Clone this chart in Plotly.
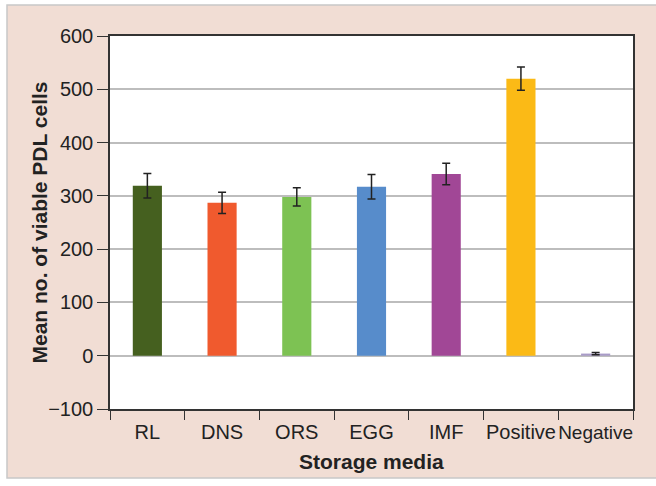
import plotly.graph_objects as go

categories = ["RL", "DNS", "ORS", "EGG", "IMF", "Positive", "Negative"]
tick_labels = ["RL", "DNS", "ORS", "EGG", "IMF", "Positive",
               '<span style="font-size:19px">Negative</span>']
means = [319, 287, 298, 317, 341, 520, 4]
errors = [23, 20, 17, 23, 20, 22, 2]
colors = ["#45601F", "#F05A2E", "#7DC253", "#578CCB", "#A14796", "#FBBA16", "#A99CC8"]
y_ticks = [-100, 0, 100, 200, 300, 400, 500, 600]
y_tick_labels = ["\u2212100", "0", "100", "200", "300", "400", "500", "600"]
x_title = "Storage media"
y_title = "Mean no. of viable PDL cells"

W, H = 656, 486
L, R, T, B = 110, 23, 36, 77
pw, ph = W - L - R, H - T - B

def px_x(p):
    return (p - L) / pw

def px_y(p):
    return (H - B - p) / ph

fig = go.Figure()
fig.add_trace(go.Bar(
    x=categories, y=means,
    marker=dict(color=colors, line=dict(width=0)),
    width=0.39,
    error_y=dict(type="data", array=errors, visible=True,
                 color="#222222", thickness=1.5, width=4),
    showlegend=False,
))

fig.update_layout(
    width=W, height=H,
    margin=dict(l=L, r=R, t=T, b=B, autoexpand=False),
    paper_bgcolor="#FFFFFF",
    plot_bgcolor="#FFFFFF",
    font=dict(family="Liberation Sans, Arial, sans-serif", size=20, color="#222222"),
    shapes=[
        dict(type="rect", xref="paper", yref="paper",
             x0=px_x(7), x1=px_x(664), y0=px_y(478), y1=px_y(5),
             fillcolor="#F1DDD4", line=dict(color="#C8C8C8", width=1.5),
             layer="below"),
        dict(type="rect", xref="paper", yref="paper",
             x0=0, x1=1, y0=0, y1=1,
             fillcolor="#FFFFFF", line=dict(width=0), layer="below"),
    ],
    annotations=[
        dict(text="<b>" + x_title + "</b>", xref="paper", yref="paper",
             x=0.5, y=px_y(461), xanchor="center", yanchor="middle",
             showarrow=False, font=dict(size=21, color="#222222")),
        dict(text="<b>" + y_title + "</b>", xref="paper", yref="paper",
             x=px_x(39), y=0.5, xanchor="center", yanchor="middle",
             textangle=-90, showarrow=False,
             font=dict(size=21, color="#222222")),
    ],
    xaxis=dict(
        tickmode="array", tickvals=categories, ticktext=tick_labels,
        tickangle=0, automargin=False, ticklabelstandoff=4,
        tickson="boundaries", ticks="outside", ticklen=9, tickwidth=1.2,
        tickcolor="#333333",
        showline=True, linecolor="#333333", linewidth=1.5, mirror=True,
        showgrid=False,
        tickfont=dict(size=20, color="#222222"),
    ),
    yaxis=dict(
        range=[-100, 600], tickvals=y_ticks, ticktext=y_tick_labels,
        automargin=False,
        ticks="outside", ticklen=11, tickwidth=1.2, tickcolor="#333333",
        showline=True, linecolor="#333333", linewidth=1.5, mirror=True,
        showgrid=True, gridcolor="#BDBDBD", gridwidth=1.5,
        zeroline=False,
        tickfont=dict(size=20, color="#222222"),
    ),
)

fig.write_html(
    "out.html",
    config={"displayModeBar": False},
    post_script="document.body.style.margin='0';document.body.style.overflow='hidden';",
)
